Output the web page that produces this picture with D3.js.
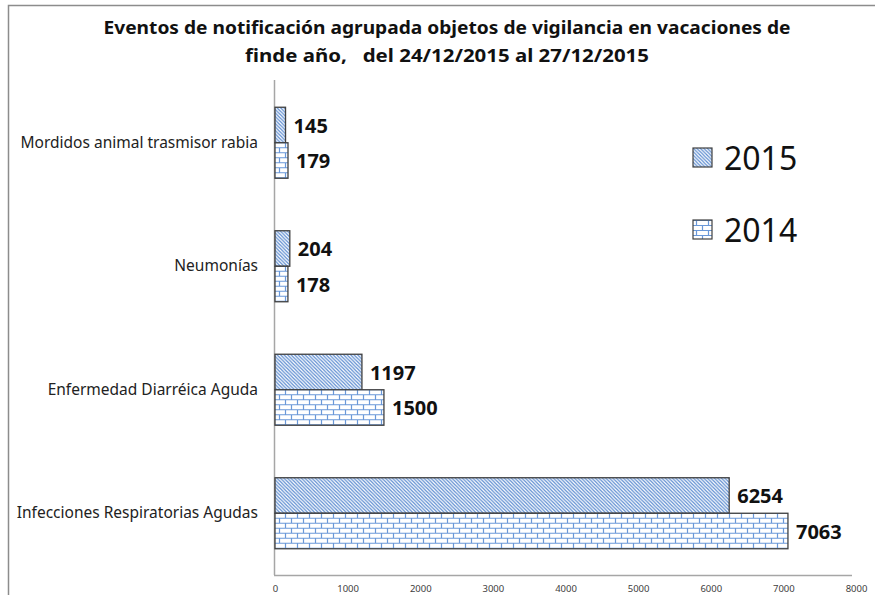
<!DOCTYPE html>
<html>
<head>
<meta charset="utf-8">
<script src="https://cdn.jsdelivr.net/npm/d3@7"></script>
<style>
  body { margin: 0; background: #fff; }
  svg { display: block; }
</style>
</head>
<body>
<svg id="chart" width="875" height="595"></svg>
<script>
const categories = ['Mordidos animal trasmisor rabia', 'Neumonías', 'Enfermedad Diarréica Aguda', 'Infecciones Respiratorias Agudas']
const series = ['2015', '2014']
const values2015 = [145, 204, 1197, 6254]
const values2014 = [179, 178, 1500, 7063]
const xTicks = [0, 1000, 2000, 3000, 4000, 5000, 6000, 7000, 8000]
const titleLines = ['Eventos de notificación agrupada objetos de vigilancia en vacaciones de', 'finde año,   del 24/12/2015 al 27/12/2015']

const svg = d3.select('#chart')
const margin = { top: 81, left: 274, right: 20, bottom: 20 }
const plotBottom = 575

// frame
svg.append('path')
    .attr('d', 'M8.5,595 V5.5 H875')
    .attr('fill', 'none').attr('stroke', '#8c8c8c').attr('stroke-width', 1.5)

// patterns
const defs = svg.append('defs')
const diag = defs.append('pattern').attr('id', 'p2015')
    .attr('patternUnits', 'userSpaceOnUse').attr('width', 3.5).attr('height', 3.5)
diag.append('rect').attr('width', 3.5).attr('height', 3.5).attr('fill', '#fff')
diag.append('path').attr('d', 'M-1,-1 L4.5,4.5 M-1,2.5 L1,4.5 M2.5,-1 L4.5,1')
    .attr('stroke', '#5b8bd0').attr('stroke-width', 1.2)

const brick = defs.append('pattern').attr('id', 'p2014')
    .attr('patternUnits', 'userSpaceOnUse').attr('width', 12).attr('height', 10)
brick.append('rect').attr('width', 12).attr('height', 10).attr('fill', '#fff')
brick.append('path')
    .attr('d', 'M0,0.5 H12 M0,5.5 H12 M3.5,0 V5 M9.5,5 V10')
    .attr('stroke', '#6a98d8').attr('stroke-width', 1.2)

const x = d3.scaleLinear().domain([0, 8000]).range([margin.left + 1, margin.left + 1 + 581])
const y = d3.scaleBand().domain(categories).range([margin.top, plotBottom]).paddingInner(0.425).paddingOuter(0.2125)
const inner = d3.scaleBand().domain(series).range([0, y.bandwidth()])

// title
svg.append('g').selectAll('text').data(titleLines).join('text')
    .attr('x', 447).attr('y', (d, i) => 34 + i * 28)
    .attr('text-anchor', 'middle')
    .style('white-space', 'pre')
    .attr('font-family', 'Noto Sans, sans-serif').attr('font-weight', 'bold')
    .attr('font-size', 17).attr('fill', '#111')
    .attr('textLength', (d, i) => i === 0 ? 687 : 404)
    .attr('lengthAdjust', 'spacingAndGlyphs')
    .text(d => d)

// axes
const axisX = d3.axisBottom(x).tickValues(xTicks).tickSize(0).tickPadding(10).tickFormat(d3.format('d'))
const gx = svg.append('g').attr('transform', `translate(0, ${plotBottom})`).call(axisX)
gx.select('.domain').attr('stroke', '#a6a6a6').attr('stroke-width', 1.5)
    .attr('d', `M${margin.left},0.5H${margin.left + 578}`)
gx.selectAll('text').attr('font-family', 'Noto Sans, sans-serif').attr('font-size', 9.5).attr('fill', '#404040')

const axisY = d3.axisLeft(y).tickSize(0).tickPadding(16)
const gy = svg.append('g').attr('transform', `translate(${margin.left}, 0)`).call(axisY)
gy.select('.domain').attr('stroke', '#a6a6a6').attr('stroke-width', 1.5)
    .attr('d', `M0.5,${margin.top - 1}V${plotBottom}`)
gy.selectAll('text').attr('font-family', 'Noto Sans, sans-serif').attr('font-size', 15.5).attr('fill', '#222')

// bars
const rows = categories.map((c, i) => ({ cat: c, vals: [
    { s: '2015', v: values2015[i] },
    { s: '2014', v: values2014[i] }
] }))

const groups = svg.append('g').selectAll('g').data(rows).join('g')
    .attr('transform', d => `translate(0, ${y(d.cat)})`)

groups.selectAll('rect').data(d => d.vals).join('rect')
    .attr('x', x(0))
    .attr('y', d => inner(d.s))
    .attr('width', d => x(d.v) - x(0))
    .attr('height', inner.bandwidth())
    .attr('fill', d => `url(#p${d.s})`)
    .attr('stroke', '#404040').attr('stroke-width', 1.3)

groups.selectAll('text').data(d => d.vals).join('text')
    .attr('x', d => x(d.v) + 8)
    .attr('y', d => inner(d.s) + inner.bandwidth() / 2 + 1)
    .attr('dy', '0.35em')
    .attr('font-family', 'Noto Sans, sans-serif').attr('font-weight', 'bold')
    .attr('font-size', 20).attr('fill', '#111')
    .text(d => d.v)

// legend
const legend = svg.append('g').selectAll('g').data(series).join('g')
    .attr('transform', (d, i) => `translate(693, ${148 + i * 72})`)
legend.append('rect').attr('width', 19).attr('height', 19)
    .attr('fill', d => `url(#p${d})`).attr('stroke', '#404040').attr('stroke-width', 1.2)
legend.append('text').attr('x', 31).attr('y', 10).attr('dy', '0.36em')
    .attr('font-family', 'Noto Sans, sans-serif').attr('font-size', 32).attr('fill', '#111')
    .text(d => d)
</script>
</body>
</html>
